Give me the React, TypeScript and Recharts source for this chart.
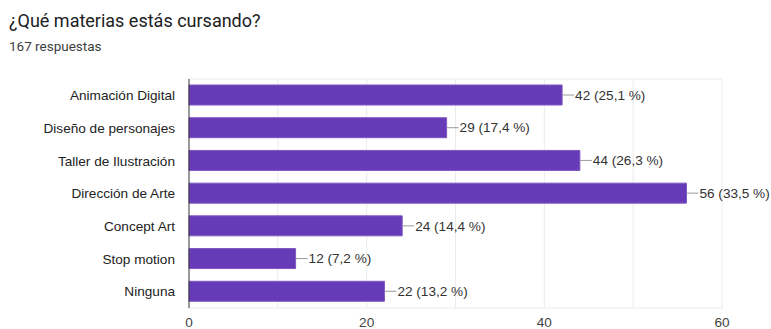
import { BarChart, Bar, XAxis, YAxis, CartesianGrid, LabelList } from "recharts";

const materias = [
  "Animación Digital",
  "Diseño de personajes",
  "Taller de Ilustración",
  "Dirección de Arte",
  "Concept Art",
  "Stop motion",
  "Ninguna",
];
const respuestas = [42, 29, 44, 56, 24, 12, 22];
const porcentajes = ["25,1", "17,4", "26,3", "33,5", "14,4", "7,2", "13,2"];
const xTicks = [0, 20, 40, 60];
const gridValues = [10, 20, 30, 40, 50, 60];

const data = materias.map((m, i) => ({
  name: m,
  value: respuestas[i],
  pct: porcentajes[i],
}));

const TITLE_FONT = "Roboto, Arial, sans-serif";
const FONT = "'Liberation Sans', Arial, sans-serif";

// etiqueta con línea guía al final de la barra
const BarLabel = (props: any) => {
  const { x, y, width, height, index } = props;
  const endX = Number(x) + Number(width);
  const midY = Number(y) + Number(height) / 2;
  const d = data[index];
  return (
    <g>
      <line x1={endX} y1={midY} x2={endX + 12} y2={midY} stroke="#999" strokeWidth={1} />
      <text x={endX + 13} y={midY} dy={4.7} fontSize={13.6} fontFamily={FONT} fill="#333">
        {`${d.value} (${d.pct} %)`}
      </text>
    </g>
  );
};

export default function App() {
  return (
    <div
      style={{
        position: "absolute",
        left: 0,
        top: 0,
        width: 771,
        height: 329,
        background: "#fff",
        fontFamily: TITLE_FONT,
      }}
    >
      <div style={{ position: "absolute", left: 9, top: 10, fontSize: 18, color: "#202124" }}>
        ¿Qué materias estás cursando?
      </div>
      <div style={{ position: "absolute", left: 9, top: 38, fontSize: 13.5, color: "#3c4043" }}>
        167 respuestas
      </div>
      <BarChart
        width={771}
        height={329}
        data={data}
        layout="vertical"
        margin={{ top: 79, right: 49, bottom: 0, left: 0 }}
        style={{ position: "absolute", left: 0, top: 0 }}
      >
        <CartesianGrid
          stroke="#ebebeb"
          verticalValues={gridValues}
          horizontalCoordinatesGenerator={({ offset }: any) => [offset.top, offset.top + offset.height]}
        />
        <XAxis
          type="number"
          domain={[0, 60]}
          ticks={xTicks}
          axisLine={false}
          tickLine={false}
          height={21}
          tick={{ fontSize: 13.6, fill: "#444", fontFamily: FONT, dy: 1 }}
        />
        <YAxis
          type="category"
          dataKey="name"
          width={189}
          axisLine={{ stroke: "#333" }}
          tickLine={false}
          tickMargin={8}
          tick={{ fontSize: 13.6, fill: "#222", fontFamily: FONT }}
        />
        <Bar
          dataKey="value"
          fill="#673ab7"
          stroke="#7e57c2"
          strokeWidth={1}
          barSize={20}
          isAnimationActive={false}
        >
          <LabelList dataKey="value" content={BarLabel} />
        </Bar>
      </BarChart>
    </div>
  );
}
